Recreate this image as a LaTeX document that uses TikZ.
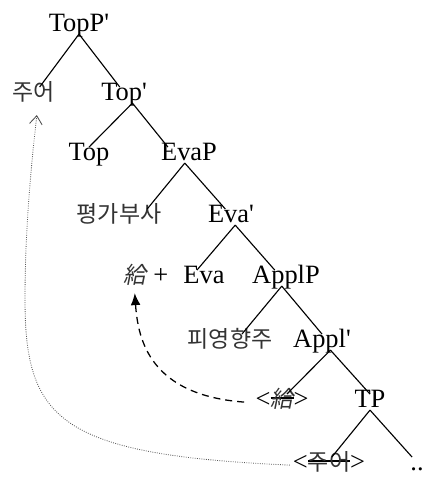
\documentclass[tikz,border=0pt]{standalone}
\usepackage{fontspec}
\setmainfont{Liberation Serif}[Ligatures=TeXOff]
\newfontfamily\kr[Scale=0.87,Color=333333]{Noto Sans CJK KR}
\newfontfamily\krit[Scale=0.87,FakeSlant=0.2,Color=333333]{Noto Sans CJK KR}
\usetikzlibrary{arrows.meta}
\newsavebox\strkbox
\newcommand\strk[1]{\sbox\strkbox{#1}\rlap{\rule[0.32em]{\wd\strkbox}{0.8pt}}\usebox\strkbox}

\begin{document}
\begin{tikzpicture}[x=0.025cm,y=-0.025cm,font=\fontsize{18.8}{22}\selectfont,
lab/.style={anchor=base,inner sep=2pt,text height=0.7em,text depth=0pt},
branch/.style={line width=0.8pt},
headmove/.style={line width=0.9pt,dash pattern=on 5pt off 3.5pt,-{Latex[length=8.5pt,width=7pt]}},
subjmove/.style={line width=0.6pt,densely dotted,gray!70!black,-{Straight Barb[length=6pt,width=9pt,line width=0.6pt,black!70]}}]
\useasboundingbox(0,0)rectangle(425,480);
\node[lab](topp)at(79,31){TopP'};
\node[lab](juo)at(34,100){\kr 주어};
\node[lab](topbar)at(124,100){Top'};
\node[lab](top)at(89,160){Top};
\node[lab](evap)at(189,160){EvaP};
\node[lab](pyeong)at(119,222){\kr 평가부사};
\node[lab](evabar)at(231,222){Eva'};
\node[lab](geup)at(146,283){{\krit 給} +};
\node[lab](eva)at(204,283){Eva};
\node[lab](applp)at(286,283){ApplP};
\node[lab](pi)at(230,347){\kr 피영향주};
\node[lab](applbar)at(322,347){Appl'};
\node[lab](geuptr)at(282,407){<\strk{\krit 給}>};
\node[lab](tp)at(370,407){TP};
\node[lab](juotr)at(329,470){<\strk{\kr 주어}>};
\node[lab](dots)at(417,470){..};
\draw[branch](topp.south)--([xshift=4pt]juo.north)
(topp.south)--([xshift=-3pt]topbar.north);
\draw[branch]([xshift=6pt]topbar.south)--(top.north)
([xshift=6pt]topbar.south)--([xshift=-15pt]evap.north);
\draw[branch]([xshift=-3pt]evap.south)--([xshift=20pt]pyeong.north)
([xshift=-3pt]evap.south)--([xshift=-4pt]evabar.north);
\draw[branch]([xshift=3pt]evabar.south)--([xshift=-5pt]eva.north)
([xshift=3pt]evabar.south)--([xshift=-8pt]applp.north);
\draw[branch]([xshift=-3pt]applp.south)--([xshift=8.5pt]pi.north)
([xshift=-3pt]applp.south)--(applbar.north);
\draw[branch]([xshift=6pt]applbar.south)--([xshift=3.5pt]geuptr.north)
([xshift=6pt]applbar.south)--(tp.north);
\draw[branch](tp.south)--([xshift=2pt]juotr.north)
(tp.south)--([xshift=-3.5pt]dots.north);
\draw[headmove]([xshift=-6pt]geuptr.west)..controls(150,395)and(138,340)..([xshift=-8pt,yshift=-5pt]geup.south);
\draw[subjmove](juotr.west)..controls(60,455)and(25,420)..(25,300)
..controls(25,220)and(33,150)..([xshift=2pt,yshift=-8.5pt]juo.south);
\end{tikzpicture}
\end{document}
